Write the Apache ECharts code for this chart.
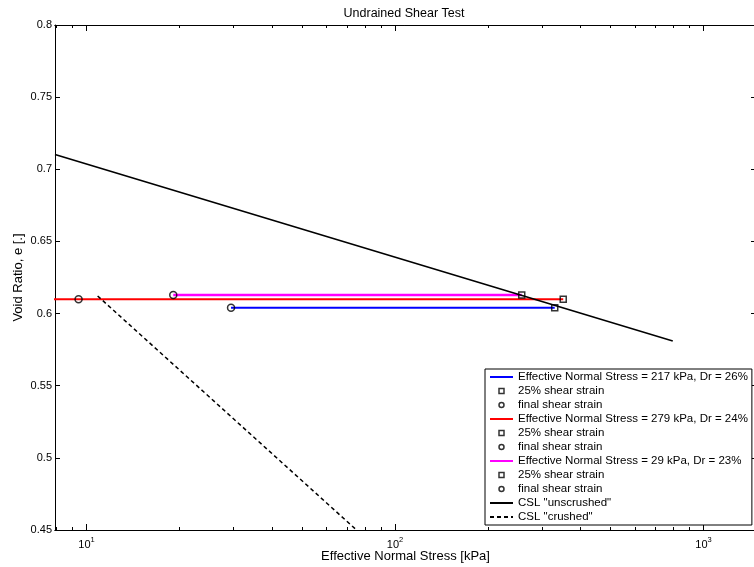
<!DOCTYPE html>
<html>
<head>
<meta charset="utf-8">
<script src="https://cdn.jsdelivr.net/npm/echarts@6/dist/echarts.min.js"></script>
<style>html,body{margin:0;padding:0;background:#fff}#c{width:754px;height:567px}</style>
</head>
<body>
<div id="c"></div>
<script>
// ---- data ----
var seriesNames = [
  'Effective Normal Stress = 217 kPa, Dr = 26%',
  'Effective Normal Stress = 279 kPa, Dr = 24%',
  'Effective Normal Stress = 29 kPa, Dr = 23%'
];
var seriesColors = ['#0000ff', '#ff0000', '#ff00ff'];
// horizontal stress paths [stress kPa, void ratio]
var pathBlue    = [[29.4, 0.6041], [329.4, 0.6041]];
var pathRed     = [[7.5, 0.6099], [351, 0.6099]];
var pathMagenta = [[19.1, 0.6129], [257.5, 0.6129]];
// 25% shear strain points (squares)
var strain25Blue = [[329.4, 0.6041]];
var strain25Red = [[351, 0.6099]];
var strain25Magenta = [[257.5, 0.6129]];
// final shear strain points (circles)
var finalBlue = [[29.4, 0.6041]];
var finalRed = [[9.42, 0.6099]];
var finalMagenta = [[19.1, 0.6129]];
// critical state lines
var cslUncrushed = [[7.9, 0.7103], [795, 0.581]];
var cslCrushed = [[10.86, 0.6122], [75, 0.45]];
// ticks
var xMajorTicks = [10, 100, 1000];
var xMinorTicks = [8, 9, 20, 30, 40, 50, 60, 70, 80, 90, 200, 300, 400, 500, 600, 700, 800, 900];
var yTicks = [0.45, 0.5, 0.55, 0.6, 0.65, 0.7, 0.75, 0.8];

var FONT = 'Liberation Sans, Arial, Helvetica, sans-serif';
var XMIN = 7.9, XMAX = 1480;

function xAxisDef(pos, ticks, len, withLabels) {
  return {
    type: 'log', logBase: 10, min: XMIN, max: XMAX, position: pos,
    gridIndex: 0,
    axisLine: {show: true, lineStyle: {color: '#000', width: 1}},
    axisTick: {show: true, inside: true, length: len, customValues: ticks, lineStyle: {color: '#000', width: 1}},
    axisLabel: withLabels ? {
      show: true, customValues: xMajorTicks, margin: 6, color: '#000', fontFamily: FONT,
      formatter: function (v) { return '{b|10}{e|' + Math.round(Math.log(v) / Math.LN10) + '}'; },
      rich: {
        b: {fontSize: 11, fontFamily: FONT, color: '#000', verticalAlign: 'bottom'},
        e: {fontSize: 7.5, fontFamily: FONT, color: '#000', verticalAlign: 'bottom', padding: [0, 0, 6, 0]}
      }
    } : {show: false},
    splitLine: {show: false},
    minorTick: {show: false},
    name: withLabels && pos === 'bottom' ? 'Effective Normal Stress [kPa]' : '',
    nameLocation: 'middle', nameGap: 20, nameMoveOverlap: false,
    nameTextStyle: {fontSize: 13, fontFamily: FONT, color: '#000'}
  };
}
function yAxisDef(pos, withLabels) {
  return {
    type: 'value', min: yTicks[0], max: yTicks[yTicks.length - 1], interval: 0.05, position: pos,
    axisLine: {show: true, lineStyle: {color: '#000', width: 1}},
    axisTick: {show: true, inside: true, length: 5, lineStyle: {color: '#000', width: 1}},
    axisLabel: withLabels ? {show: true, fontSize: 11, fontFamily: FONT, color: '#000', margin: 3} : {show: false},
    splitLine: {show: false},
    name: withLabels ? 'Void Ratio, e [.]' : '',
    nameLocation: 'middle', nameGap: 30, nameMoveOverlap: false,
    nameTextStyle: {fontSize: 13, fontFamily: FONT, color: '#000'}
  };
}

function pathSeries(name, color, data, width) {
  return {name: name, type: 'line', data: data, symbol: 'none', xAxisIndex: 0, yAxisIndex: 0,
    lineStyle: {color: color, width: width}, itemStyle: {color: color}, clip: true, z: 2, silent: true};
}
function markerSeries(name, color, data, symbol, size) {
  return {name: name, type: 'scatter', data: data, symbol: symbol, symbolSize: size, xAxisIndex: 0, yAxisIndex: 0,
    itemStyle: {color: 'rgba(0,0,0,0)', borderColor: '#000', borderWidth: 1.5}, z: 5, silent: true};
}

var sq = ['25% shear strain', '25% shear strain ', '25% shear strain  '];
var fi = ['final shear strain', 'final shear strain ', 'final shear strain  '];

var series = [
  pathSeries(seriesNames[0], seriesColors[0], pathBlue, 2),
  markerSeries(sq[0], seriesColors[0], strain25Blue, 'rect', 6),
  markerSeries(fi[0], seriesColors[0], finalBlue, 'circle', 7),
  pathSeries(seriesNames[1], seriesColors[1], pathRed, 2),
  markerSeries(sq[1], seriesColors[1], strain25Red, 'rect', 6),
  markerSeries(fi[1], seriesColors[1], finalRed, 'circle', 7),
  pathSeries(seriesNames[2], seriesColors[2], pathMagenta, 2.5),
  markerSeries(sq[2], seriesColors[2], strain25Magenta, 'rect', 6),
  markerSeries(fi[2], seriesColors[2], finalMagenta, 'circle', 7),
  {name: 'CSL "unscrushed"', type: 'line', data: cslUncrushed, symbol: 'none', clip: true,
   lineStyle: {color: '#000', width: 1.6}, itemStyle: {color: '#000'}, z: 3, silent: true},
  {name: 'CSL "crushed"', type: 'line', data: cslCrushed, symbol: 'none', clip: true,
   lineStyle: {color: '#000', width: 1.5, type: [4, 3]}, itemStyle: {color: '#000'}, z: 3, silent: true}
];

// legend icon shapes
var ICON_LINE = 'path://M0,0L23,0L23,2L0,2Z';
var ICON_DASH = 'path://M0,0h4v2h-4zM7,0h4v2h-4zM14,0h4v2h-4zM21,0h2v2h-2z';
var ICON_SQUARE = 'path://M0,0L10,0L10,10L0,10Z';
function lineItem(name, color, icon) {
  return {name: name, icon: icon, itemStyle: {color: color, borderWidth: 0}};
}
function markItem(name, icon) {
  return {name: name, icon: icon, itemStyle: {color: 'rgba(0,0,0,0)', borderColor: '#000', borderWidth: 1.5}};
}
var legendData = [
  lineItem(seriesNames[0], seriesColors[0], ICON_LINE), markItem(sq[0], ICON_SQUARE), markItem(fi[0], 'circle'),
  lineItem(seriesNames[1], seriesColors[1], ICON_LINE), markItem(sq[1], ICON_SQUARE), markItem(fi[1], 'circle'),
  lineItem(seriesNames[2], seriesColors[2], ICON_LINE), markItem(sq[2], ICON_SQUARE), markItem(fi[2], 'circle'),
  lineItem('CSL "unscrushed"', '#000', ICON_LINE), lineItem('CSL "crushed"', '#000', ICON_DASH)
];

var chart = echarts.init(document.getElementById('c'), null, {renderer: 'canvas'});
chart.setOption({
  animation: false,
  backgroundColor: '#fff',
  title: {text: 'Undrained Shear Test', left: 399, top: 2, textAlign: 'center',
    textStyle: {fontSize: 12.5, fontWeight: 'normal', fontFamily: FONT, color: '#000'}},
  grid: {left: 55, top: 25, width: 701, height: 505, containLabel: false, outerBoundsMode: 'none'},
  xAxis: [
    xAxisDef('bottom', xMajorTicks, 6, true),
    xAxisDef('bottom', xMinorTicks, 3, false),
    xAxisDef('top', xMajorTicks, 6, false),
    xAxisDef('top', xMinorTicks, 3, false)
  ],
  yAxis: [yAxisDef('left', true), yAxisDef('right', false)],
  legend: {
    data: legendData, orient: 'vertical', left: 485, top: 369,
    padding: [2, 4, 2, 5], itemGap: 2, itemWidth: 23, itemHeight: 5,
    borderColor: '#000', borderWidth: 1, backgroundColor: '#fff',
    selectedMode: false, symbolKeepAspect: true,
    textStyle: {fontSize: 11.5, fontFamily: FONT, color: '#000'},
    formatter: function (n) { return n.trim(); }
  },
  series: series
});
</script>
</body>
</html>
